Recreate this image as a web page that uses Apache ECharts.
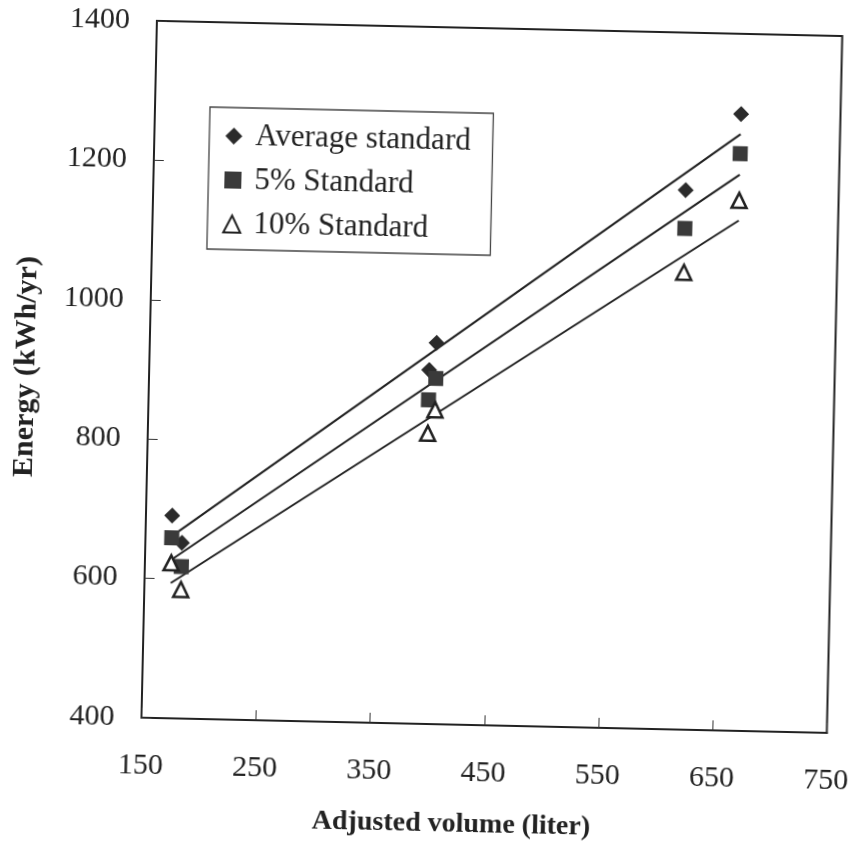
<!DOCTYPE html>
<html>
<head>
<meta charset="utf-8">
<title>Energy vs adjusted volume</title>
<script src="https://cdn.jsdelivr.net/npm/echarts@6/dist/echarts.min.js"></script>
<style>
html,body{margin:0;padding:0;background:#fff;overflow:hidden;}
/* the scanned figure sits slightly tilted on the page */
#main{width:859px;height:852px;transform:rotate(1.27deg);}
</style>
</head>
<body>
<div id="main"></div>
<script>
// adjusted volume (liter) of the six models
var volumes = [173, 182, 395, 401, 616, 663];
// energy (kWh/yr) for each standard
var averageStd = [691, 652, 908, 947, 1174, 1285];
var std5 = [659, 618, 865, 896, 1119, 1228];
var std10 = [623, 585, 817, 851, 1056, 1161];
var seriesNames = ['Average standard', '5% Standard', '10% Standard'];
// axis ticks
var xTicks = [150, 250, 350, 450, 550, 650, 750];
var yTicks = [400, 600, 800, 1000, 1200, 1400];

var serif = 'Liberation Serif';

function pairs(xs, ys){
	var out = [];
	for(var i=0;i<xs.length;i++){
		out.push([xs[i], ys[i]]);
	}
	return out;
}

//least squares line through the points, drawn over the data range
function fitLine(xs, ys){
	var n = xs.length, mx = 0, my = 0, sxy = 0, sxx = 0;
	for(var i=0;i<n;i++){ mx += xs[i]; my += ys[i]; }
	mx = mx/n; my = my/n;
	for(var j=0;j<n;j++){
		sxy += (xs[j]-mx)*(ys[j]-my);
		sxx += (xs[j]-mx)*(xs[j]-mx);
	}
	var b = sxy/sxx, a = my - b*mx;
	var x0 = Math.min.apply(null, xs), x1 = Math.max.apply(null, xs);
	return [[x0, a+b*x0], [x1, a+b*x1]];
}

function fitSeries(name, ys){
	return {
		name: name,
		type: 'line',
		data: fitLine(volumes, ys),
		symbol: 'none',
		silent: true,
		z: 1,
		lineStyle: { color: '#222', width: 2 }
	};
}

//plain numbers, no thousands separator
function plain(v){
	return String(v);
}

var chart = echarts.init(document.getElementById('main'));
chart.setOption({
	animation: false,
	backgroundColor: '#fff',
	grid: {
		left: 148, right: 23, top: 27, bottom: 128,
		show: true, borderColor: '#222', borderWidth: 2
	},
	legend: {
		orient: 'vertical',
		left: 203, top: 112,
		padding: [13, 22, 10, 15],
		itemGap: 13,
		itemWidth: 17, itemHeight: 17,
		borderColor: '#444', borderWidth: 1.3,
		backgroundColor: '#fff',
		data: [
			{ name: seriesNames[0], icon: 'diamond' },
			{ name: seriesNames[1], icon: 'rect' },
			{ name: seriesNames[2], icon: 'triangle' }
		],
		textStyle: {
			fontFamily: serif, fontSize: 31, color: '#222',
			lineHeight: 31, padding: [0, 0, 0, 8]
		}
	},
	xAxis: {
		type: 'value',
		min: xTicks[0], max: xTicks[xTicks.length-1],
		interval: xTicks[1]-xTicks[0],
		name: 'Adjusted volume (liter)',
		nameLocation: 'middle',
		nameGap: 86,
		nameTextStyle: {
			fontFamily: serif, fontWeight: 'bold', fontSize: 28, color: '#222',
			padding: [0, 62, 0, 0]
		},
		axisLine: { lineStyle: { color: '#222', width: 2 } },
		axisTick: { inside: true, length: 10, lineStyle: { color: '#333' } },
		axisLabel: {
			fontFamily: serif, fontSize: 30, color: '#222', margin: 33,
			showMinLabel: true, showMaxLabel: true,
			formatter: plain
		},
		splitLine: { show: false }
	},
	yAxis: {
		type: 'value',
		min: yTicks[0], max: yTicks[yTicks.length-1],
		interval: yTicks[1]-yTicks[0],
		name: 'Energy (kWh/yr)',
		nameLocation: 'middle',
		nameRotate: 90,
		nameGap: 108,
		nameTextStyle: {
			fontFamily: serif, fontWeight: 'bold', fontSize: 30, color: '#222'
		},
		axisLine: { lineStyle: { color: '#222', width: 2 } },
		axisTick: { inside: true, length: 10, lineStyle: { color: '#333' } },
		axisLabel: {
			fontFamily: serif, fontSize: 30, color: '#222', margin: 27,
			showMinLabel: true, showMaxLabel: true,
			formatter: plain
		},
		splitLine: { show: false }
	},
	series: [
		fitSeries('fit avg', averageStd),
		fitSeries('fit 5', std5),
		fitSeries('fit 10', std10),
		{
			name: seriesNames[0],
			type: 'scatter',
			symbol: 'diamond',
			symbolSize: [16, 16],
			z: 3,
			itemStyle: { color: '#2b2b2b', opacity: 1 },
			data: pairs(volumes, averageStd)
		},
		{
			name: seriesNames[1],
			type: 'scatter',
			symbol: 'rect',
			symbolSize: 15,
			z: 3,
			itemStyle: { color: '#3a3a3a', opacity: 1 },
			data: pairs(volumes, std5)
		},
		{
			name: seriesNames[2],
			type: 'scatter',
			symbol: 'triangle',
			symbolSize: 15,
			z: 3,
			itemStyle: { color: '#fff', borderColor: '#222', borderWidth: 2.5, opacity: 1 },
			data: pairs(volumes, std10)
		}
	]
});
</script>
</body>
</html>
